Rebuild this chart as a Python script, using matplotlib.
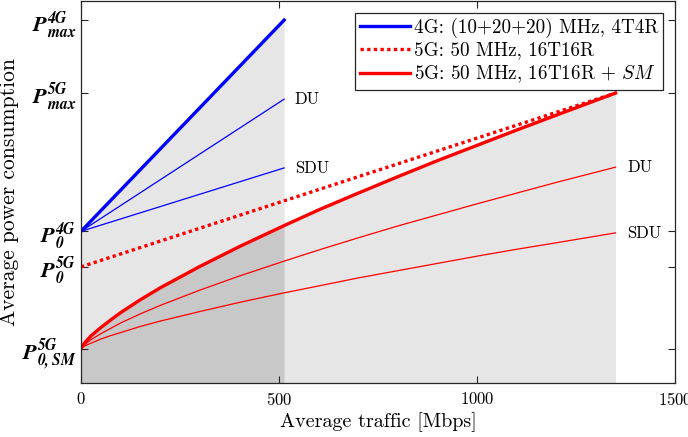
import numpy as np
import matplotlib.pyplot as plt

plt.rcParams['font.family'] = 'cmr10'
plt.rcParams['mathtext.fontset'] = 'cm'
plt.rcParams['axes.formatter.use_mathtext'] = True

# power levels (arbitrary units)
p_max_4g = 95.0
p_max_5g = 75.9
p0_4g = 39.7
p0_5g = 30.4
p0_sm = 8.9

# 4G: peak traffic 513 Mbps
x_4g = [0, 513]
blue_full = [p0_4g, p_max_4g]
blue_du = [p0_4g, 74.3]
blue_sdu = [p0_4g, 56.3]

# 5G: peak traffic 1350 Mbps
x_5g_lin = [0, 1350]
red_nosm = [p0_5g, p_max_5g]

x_5g = [0, 3, 5, 10, 25, 50, 75, 100, 150, 200, 300, 400, 513, 600, 700, 800, 900, 1000, 1100, 1200, 1350]
red_full = [8.9, 9.6, 9.9, 10.6, 12.3, 14.5, 16.5, 18.4, 21.8, 24.9, 30.5, 35.7, 41.2, 45.3, 49.7, 54.0, 58.2, 62.2, 66.2, 70.1, 75.9]
red_du = [8.9, 9.4, 9.6, 10.1, 11.3, 12.9, 14.3, 15.7, 18.1, 20.3, 24.3, 28.0, 31.9, 34.8, 38.0, 41.1, 44.0, 46.9, 49.7, 52.5, 56.5]
red_sdu = [8.9, 9.2, 9.4, 9.7, 10.4, 11.5, 12.4, 13.2, 14.8, 16.2, 18.7, 21.1, 23.6, 25.4, 27.5, 29.4, 31.3, 33.2, 35.0, 36.7, 39.3]

yticks = [p0_sm, p0_5g, p0_4g, p_max_5g, p_max_4g]
ytick_labels = [r'$\mathbfit{P}_{\mathbfit{0,SM}}^{\mathbfit{5G}}$',
                r'$\mathbfit{P}_{\mathbfit{0}}^{\mathbfit{5G}}$',
                r'$\mathbfit{P}_{\mathbfit{0}}^{\mathbfit{4G}}$',
                r'$\mathbfit{P}_{\mathbfit{max}}^{\mathbfit{5G}}$',
                r'$\mathbfit{P}_{\mathbfit{max}}^{\mathbfit{4G}}$']

fig = plt.figure(figsize=(6.88, 4.37), dpi=100)
ax = fig.add_axes([0.1177, 0.1236, 0.8633, 0.8741])

# shaded areas: light under the full-load envelopes, dark under SM curve up to 4G peak
k = x_5g.index(513)
x_env = np.concatenate([x_4g, x_5g[k:]])
y_env = np.concatenate([blue_full, red_full[k:]])
ax.fill_between(x_env, 0, y_env, color='#e6e6e6', lw=0, zorder=0)
ax.fill_between(x_5g[:k + 1], 0, red_full[:k + 1], color='#c8c8c8', lw=0, zorder=0)

ax.plot(x_4g, blue_full, color='#0000ff', lw=2.4, label='4G: (10+20+20) MHz, 4T4R')
ax.plot(x_4g, blue_du, color='#0000ff', lw=0.9)
ax.plot(x_4g, blue_sdu, color='#0000ff', lw=0.9)
ax.plot(x_5g_lin, red_nosm, color='#ff0000', lw=2.4, ls=(0, (1, 1)), label='5G: 50 MHz, 16T16R')
ax.plot(x_5g, red_full, color='#ff0000', lw=2.4, label=r'5G: 50 MHz, 16T16R + $SM$')
ax.plot(x_5g, red_du, color='#ff0000', lw=0.9)
ax.plot(x_5g, red_sdu, color='#ff0000', lw=0.9)

ax.text(540, blue_du[-1], 'DU', fontsize=12, va='center')
ax.text(540, blue_sdu[-1], 'SDU', fontsize=12, va='center')
ax.text(1379, red_du[-1], 'DU', fontsize=12, va='center')
ax.text(1379, red_sdu[-1], 'SDU', fontsize=12, va='center')

ax.set_xlim(0, 1500)
ax.set_ylim(0, 100)
ax.set_xticks([0, 500, 1000, 1500])
ax.set_yticks(yticks)
ax.set_yticklabels(ytick_labels, fontsize=16)
ax.tick_params(axis='x', labelsize=12, pad=6)
ax.tick_params(direction='in', top=True, right=True, length=5, color='#262626')
for s in ax.spines.values():
    s.set_color('#262626')
    s.set_linewidth(0.9)

ax.set_xlabel('Average traffic [Mbps]', fontsize=14.5, labelpad=3)
ax.set_ylabel('Average power consumption', fontsize=15.5, labelpad=2)

leg = ax.legend(loc='upper right', bbox_to_anchor=(0.98, 0.969), fontsize=13.8,
                fancybox=False, framealpha=1, edgecolor='#262626',
                handlelength=2.6, handletextpad=0.2, borderpad=0.25,
                labelspacing=0.2, borderaxespad=0)
leg.get_frame().set_linewidth(0.9)

fig.savefig('out.png', dpi=100)
